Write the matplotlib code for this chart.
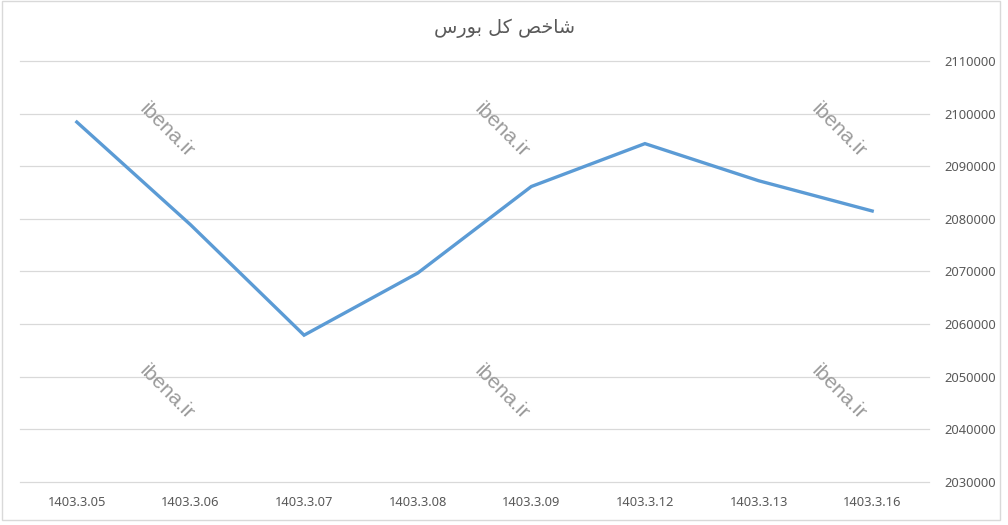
import matplotlib
matplotlib.use("Agg")
import matplotlib.pyplot as plt
from matplotlib.patches import Rectangle
from matplotlib.ticker import FixedLocator

# ---- data ----
dates = ["1403.3.05", "1403.3.06", "1403.3.07", "1403.3.08",
         "1403.3.09", "1403.3.12", "1403.3.13", "1403.3.16"]
index_values = [2098400, 2078900, 2057900, 2069700,
                2086150, 2094300, 2087250, 2081500]
y_ticks = [2030000, 2040000, 2050000, 2060000, 2070000,
           2080000, 2090000, 2100000, 2110000]
# "شاخص کل بورس" written with Arabic presentation forms (visual order)
title_text = "\uFEB1\uFEAD\uFEEE\uFE91 \uFEDE\uFB90 \uFEBA\uFEA7\uFE8E\uFEB7"
watermark = "ibena.ir"

plt.rcParams['font.family'] = ['Noto Sans', 'DejaVu Sans']

fig = plt.figure(figsize=(10.08, 5.25), dpi=100)
fig.patch.set_facecolor("white")

# chart-area border
fig.patches.append(Rectangle((2/1008, 1 - 520/525), 998/1008, 519/525,
                             transform=fig.transFigure, fill=False,
                             edgecolor="#D9D9D9", linewidth=1.0))

ax = fig.add_axes([20/1008, 1 - 482/525, 909/1008, 421/525])
x = list(range(len(dates)))
ax.plot(x, index_values, color="#5B9BD5", linewidth=2.4,
        solid_joinstyle="miter", zorder=3)

ax.set_xlim(-0.5, len(dates) - 0.5)
ax.set_ylim(y_ticks[0], y_ticks[-1])
ax.set_xticks(x)
ax.set_xticklabels(dates)
ax.yaxis.set_major_locator(FixedLocator(y_ticks))
ax.set_yticklabels([str(v) for v in y_ticks])
ax.yaxis.tick_right()
ax.tick_params(axis="y", length=0, pad=11, labelsize=9.3, labelcolor="#595959")
ax.tick_params(axis="x", length=0, pad=10, labelsize=9.3, labelcolor="#595959")
ax.grid(axis="y", color="#D9D9D9", linewidth=0.9)
for gl in ax.get_ygridlines():
    gl.set_clip_on(False)
ax.set_axisbelow(True)
for s in ax.spines.values():
    s.set_visible(False)

fig.text(505/1008, 1 - 28/525, title_text, ha="center", va="center",
         fontsize=13.8, color="#595959", family=["DejaVu Sans"])

# watermarks
for cx in (167, 502, 839):
    for cy in (130, 392):
        fig.text(cx/1008, 1 - cy/525, watermark, rotation=-45,
                 ha="center", va="center", rotation_mode="anchor",
                 fontsize=15, color="#9A9A9A", zorder=5,
                 family=["Liberation Sans"])

fig.savefig("out.png", dpi=100, facecolor="white")
